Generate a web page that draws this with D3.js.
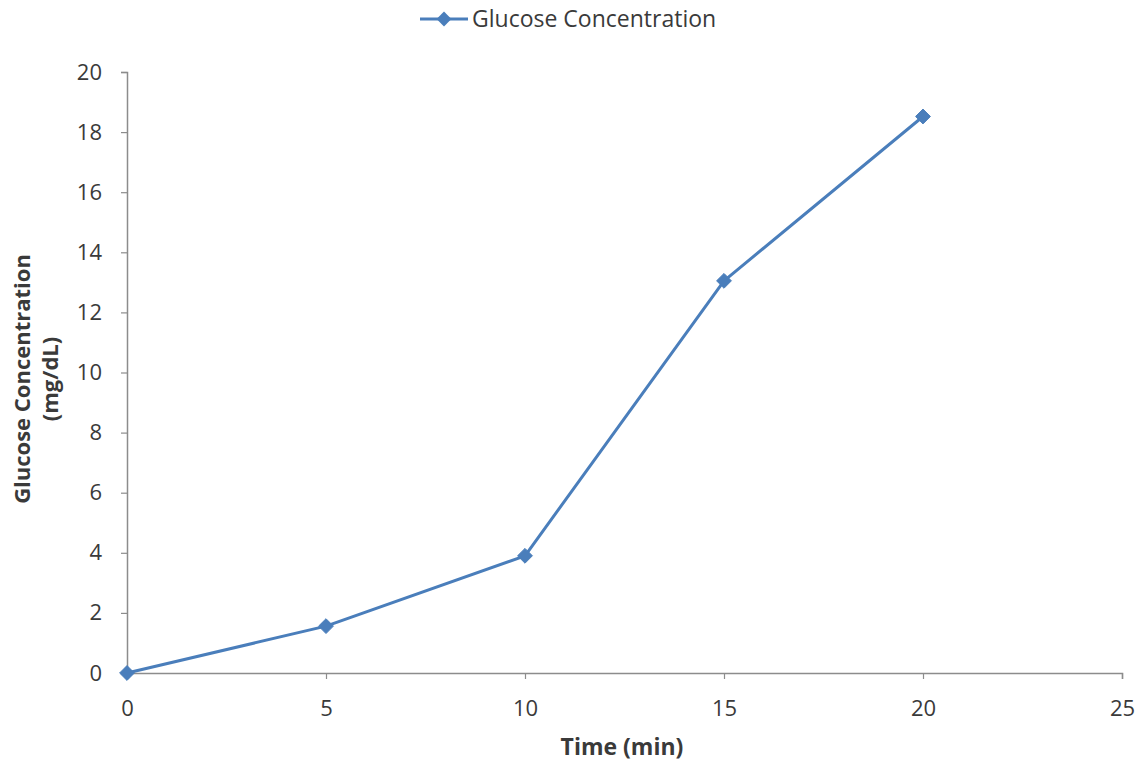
<!DOCTYPE html>
<html>
<head>
<meta charset="utf-8">
<script src="https://cdn.jsdelivr.net/npm/d3@7"></script>
<style>
  html, body { margin: 0; padding: 0; background: #fff; }
  svg { display: block; }
  text { font-family: "Open Sans", "Liberation Sans", sans-serif; fill: #3a3a3a; }
</style>
</head>
<body>
<svg id="chart" width="1141" height="761"></svg>
<script>
// Glucose concentration sampled every 5 minutes
const timeMin = [0, 5, 10, 15, 20];
const glucose = [0, 1.56, 3.9, 13.05, 18.52];
const xTicks = [0, 5, 10, 15, 20, 25];
const yTicks = [0, 2, 4, 6, 8, 10, 12, 14, 16, 18, 20];
const seriesName = "Glucose Concentration";

const svg = d3.select("#chart");

const x = d3.scaleLinear().domain([0, 25]).range([127, 1122]);
const y = d3.scaleLinear().domain([0, 20]).range([673, 72]);

const axisColor = "#8c8c8c";
const lineColor = "#4a7ebb";
const tickFont = 22;

// X axis
const gx = svg.append("g")
  .attr("transform", `translate(0,${y(0)})`)
  .call(d3.axisBottom(x).tickValues(xTicks).tickSize(6).tickPadding(21).tickFormat(d3.format("d")));
gx.select(".domain").attr("stroke", axisColor).attr("stroke-width", 1.5);
gx.selectAll(".tick line").attr("stroke", axisColor).attr("stroke-width", 1.2);
gx.selectAll(".tick text").attr("font-size", tickFont).attr("fill", "#3a3a3a")
  .style("font-family", "'Open Sans', sans-serif");

// Y axis
const gy = svg.append("g")
  .attr("transform", `translate(${x(0)},0)`)
  .call(d3.axisLeft(y).tickValues(yTicks).tickSize(6).tickPadding(19).tickFormat(d3.format("d")));
gy.select(".domain").attr("stroke", axisColor).attr("stroke-width", 1.5);
gy.selectAll(".tick line").attr("stroke", axisColor).attr("stroke-width", 1.2);
gy.selectAll(".tick text").attr("font-size", tickFont).attr("fill", "#3a3a3a")
  .style("font-family", "'Open Sans', sans-serif");

// Axis titles
svg.append("text")
  .attr("x", 622)
  .attr("y", 755)
  .attr("text-anchor", "middle")
  .attr("font-size", 23)
  .attr("font-weight", "bold")
  .attr("fill", "#1f1f1f")
  .text("Time (min)");

const yTitle = svg.append("text")
  .attr("transform", `translate(30,379) rotate(-90)`)
  .attr("text-anchor", "middle")
  .attr("font-size", 22)
  .attr("font-weight", "bold")
  .attr("fill", "#1f1f1f");
yTitle.append("tspan").attr("x", 0).attr("dy", 0).text("Glucose Concentration");
yTitle.append("tspan").attr("x", 0).attr("dy", 28).text("(mg/dL)");

// Series line
const pts = timeMin.map((t, i) => [t, glucose[i]]);
svg.append("path")
  .datum(pts)
  .attr("fill", "none")
  .attr("stroke", lineColor)
  .attr("stroke-width", 3)
  .attr("stroke-linejoin", "round")
  .attr("d", d3.line().x(d => x(d[0])).y(d => y(d[1])));

// Diamond markers
const diamond = d3.symbol().type(d3.symbolDiamond2).size(140);
svg.append("g").selectAll("path")
  .data(pts)
  .join("path")
  .attr("transform", d => `translate(${x(d[0])},${y(d[1])})`)
  .attr("d", diamond)
  .attr("fill", lineColor)
  .attr("stroke", lineColor)
  .attr("stroke-width", 1);

// Legend
const lg = svg.append("g").attr("transform", "translate(420,19)");
lg.append("line").attr("x1", 0).attr("x2", 48).attr("y1", 0).attr("y2", 0)
  .attr("stroke", lineColor).attr("stroke-width", 3);
lg.append("path").attr("transform", "translate(24,0)").attr("d", diamond).attr("fill", lineColor);
lg.append("text").attr("x", 52).attr("y", 8).attr("font-size", 23).attr("fill", "#3a3a3a")
  .text(seriesName);
</script>
</body>
</html>
